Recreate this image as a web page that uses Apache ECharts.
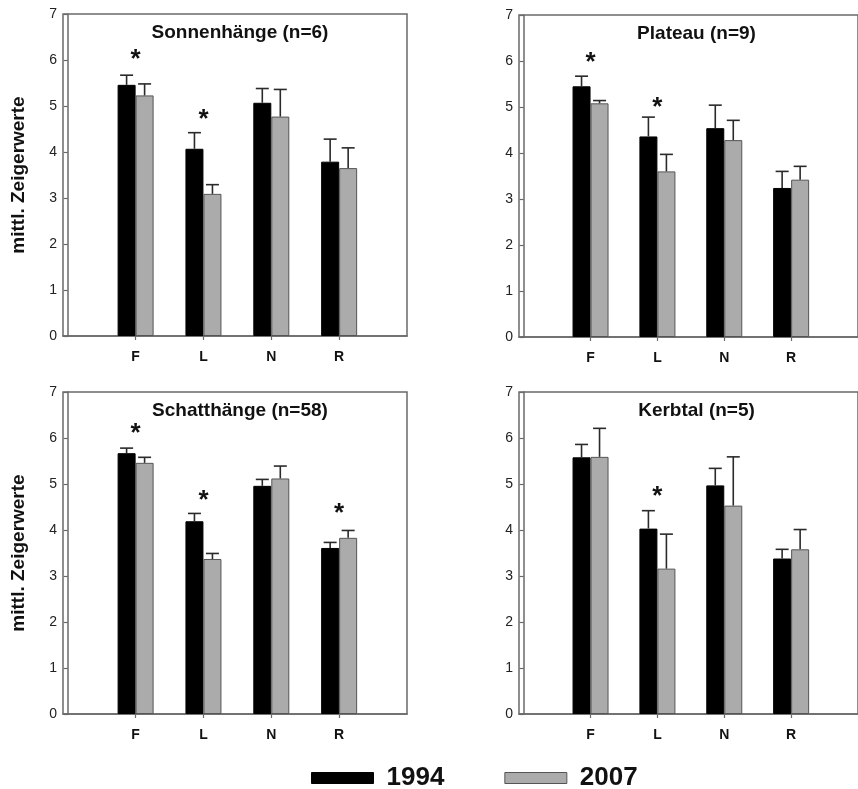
<!DOCTYPE html>
<html><head><meta charset="utf-8">
<script src="https://cdn.jsdelivr.net/npm/echarts@6/dist/echarts.min.js"></script>
<style>html,body{margin:0;padding:0;background:#fff}#c{width:858px;height:789px}</style>
</head><body><div id="c"></div>
<script>
// ---- data ----
const categories = ['F', 'L', 'N', 'R'];
const yTicks = [0, 1, 2, 3, 4, 5, 6, 7];
const panelTitles = ['Sonnenhänge (n=6)', 'Plateau (n=9)', 'Schatthänge (n=58)', 'Kerbtal (n=5)'];
const years = ['1994', '2007'];

const sonnenMean1994 = [5.46, 4.07, 5.07, 3.79];
const sonnenUpper1994 = [5.67, 4.42, 5.38, 4.28];
const sonnenMean2007 = [5.23, 3.09, 4.77, 3.65];
const sonnenUpper2007 = [5.48, 3.29, 5.36, 4.09];
const sonnenStars = [6.11, 4.80, null, null];

const plateauMean1994 = [5.45, 4.36, 4.54, 3.24];
const plateauUpper1994 = [5.67, 4.78, 5.04, 3.60];
const plateauMean2007 = [5.08, 3.60, 4.28, 3.42];
const plateauUpper2007 = [5.14, 3.97, 4.71, 3.71];
const plateauStars = [6.07, 5.10, null, null];

const schattMean1994 = [5.67, 4.19, 4.96, 3.61];
const schattUpper1994 = [5.78, 4.36, 5.10, 3.73];
const schattMean2007 = [5.46, 3.37, 5.12, 3.83];
const schattUpper2007 = [5.58, 3.49, 5.39, 3.99];
const schattStars = [6.19, 4.74, null, 4.45];

const kerbMean1994 = [5.58, 4.03, 4.97, 3.38];
const kerbUpper1994 = [5.86, 4.42, 5.34, 3.58];
const kerbMean2007 = [5.59, 3.16, 4.53, 3.58];
const kerbUpper2007 = [6.21, 3.91, 5.59, 4.01];
const kerbStars = [null, 4.83, null, null];

const panels = [
  {m1: sonnenMean1994, u1: sonnenUpper1994, m2: sonnenMean2007, u2: sonnenUpper2007, s: sonnenStars},
  {m1: plateauMean1994, u1: plateauUpper1994, m2: plateauMean2007, u2: plateauUpper2007, s: plateauStars},
  {m1: schattMean1994, u1: schattUpper1994, m2: schattMean2007, u2: schattUpper2007, s: schattStars},
  {m1: kerbMean1994, u1: kerbUpper1994, m2: kerbMean2007, u2: kerbUpper2007, s: kerbStars}
];

// ---- layout ----
const FONT = '"Liberation Sans", Arial, sans-serif';
const AX = '#6a6a6a';
const BAR_W = 18;
const grids = [
  {left: 63, top: 14, width: 344, height: 322},
  {left: 519, top: 15, width: 345, height: 322},
  {left: 63, top: 392, width: 344, height: 322},
  {left: 519, top: 392, width: 345, height: 322}
];
const catPos = categories.map((c, i) => i + 1);

const option = {
  animation: false,
  backgroundColor: '#fff',
  title: panelTitles.map((t, i) => ({
    text: t,
    left: grids[i].left + grids[i].width / 2,
    top: grids[i].top + 4,
    textAlign: 'center',
    textStyle: {fontFamily: FONT, fontWeight: 'bold', fontSize: 19, color: '#111'}
  })),
  legend: {
    data: [
      {name: years[0], itemStyle: {color: '#000', borderColor: '#000', borderWidth: 1}},
      {name: years[1], itemStyle: {color: '#ababab', borderColor: '#555', borderWidth: 1}}
    ],
    left: 311, top: 765, padding: 0,
    icon: 'rect', itemWidth: 62, itemHeight: 11, itemGap: 60,
    textStyle: {fontFamily: FONT, fontWeight: 'bold', fontSize: 26, color: '#111', padding: [0, 0, 0, 8]}
  },
  grid: grids.map(g => Object.assign({show: true, borderColor: AX, borderWidth: 1.5, backgroundColor: 'transparent'}, g)),
  xAxis: grids.map((g, i) => ({
    type: 'value', gridIndex: i, min: -0.07, max: 5,
    axisLine: {show: true, onZero: false, lineStyle: {color: AX, width: 1.5}},
    axisTick: {show: true, customValues: catPos, length: 4, lineStyle: {color: AX, width: 1.2}},
    axisLabel: {show: true, customValues: catPos, formatter: v => categories[Math.round(v) - 1] || '',
      margin: 14, fontFamily: FONT, fontWeight: 'bold', fontSize: 14, color: '#111'},
    splitLine: {show: false}
  })),
  yAxis: grids.map((g, i) => ({
    type: 'value', gridIndex: i, min: 0, max: 7, interval: 1,
    name: (i % 2 === 0) ? 'mittl. Zeigerwerte' : '',
    nameLocation: 'middle', nameGap: 35,
    nameTextStyle: {fontFamily: FONT, fontWeight: 'bold', fontSize: 19, color: '#111'},
    axisLine: {show: true, lineStyle: {color: AX, width: 1.5}},
    axisTick: {show: true, inside: false, length: 4, lineStyle: {color: AX, width: 1.2}},
    axisLabel: {margin: 6, fontFamily: FONT, fontSize: 14, color: '#222', formatter: v => yTicks.includes(v) ? String(v) : ''},
    splitLine: {show: false}
  })),
  series: []
};

function errRender(offset) {
  return function (params, api) {
    const x = api.value(0), m = api.value(1), u = api.value(2);
    const p0 = api.coord([x, m]);
    const p1 = api.coord([x, u]);
    const cx = p0[0] + offset;
    const st = {stroke: '#2a2a2a', lineWidth: 1.6};
    return {type: 'group', children: [
      {type: 'line', shape: {x1: cx, y1: p0[1], x2: cx, y2: p1[1]}, style: st},
      {type: 'line', shape: {x1: cx - 6.5, y1: p1[1], x2: cx + 6.5, y2: p1[1]}, style: st}
    ]};
  };
}

panels.forEach((p, i) => {
  option.series.push({
    name: years[0], type: 'bar', xAxisIndex: i, yAxisIndex: i,
    barWidth: BAR_W, barGap: '0%',
    itemStyle: {color: '#000', borderColor: '#000', borderWidth: 1},
    data: p.m1.map((v, k) => [catPos[k], v]), z: 2
  });
  option.series.push({
    name: years[1], type: 'bar', xAxisIndex: i, yAxisIndex: i,
    barWidth: BAR_W, barGap: '0%',
    itemStyle: {color: '#ababab', borderColor: '#555', borderWidth: 1},
    data: p.m2.map((v, k) => [catPos[k], v]), z: 2
  });
  option.series.push({
    type: 'custom', xAxisIndex: i, yAxisIndex: i, renderItem: errRender(-BAR_W / 2), z: 3,
    data: p.m1.map((v, k) => [catPos[k], v, p.u1[k]]), silent: true
  });
  option.series.push({
    type: 'custom', xAxisIndex: i, yAxisIndex: i, renderItem: errRender(BAR_W / 2), z: 3,
    data: p.m2.map((v, k) => [catPos[k], v, p.u2[k]]), silent: true
  });
  option.series.push({
    type: 'custom', xAxisIndex: i, yAxisIndex: i, z: 4, silent: true,
    data: p.s.map((v, k) => [catPos[k], v]).filter(d => d[1] != null),
    renderItem: function (params, api) {
      const pt = api.coord([api.value(0), api.value(1)]);
      return {type: 'text', x: pt[0], y: pt[1] + 5,
        style: {text: '*', fontFamily: FONT, fontWeight: 'bold', fontSize: 26, fill: '#111',
          align: 'center', verticalAlign: 'middle'}};
    }
  });
});

const chart = echarts.init(document.getElementById('c'), null, {renderer: 'canvas'});
chart.setOption(option);
</script></body></html>
